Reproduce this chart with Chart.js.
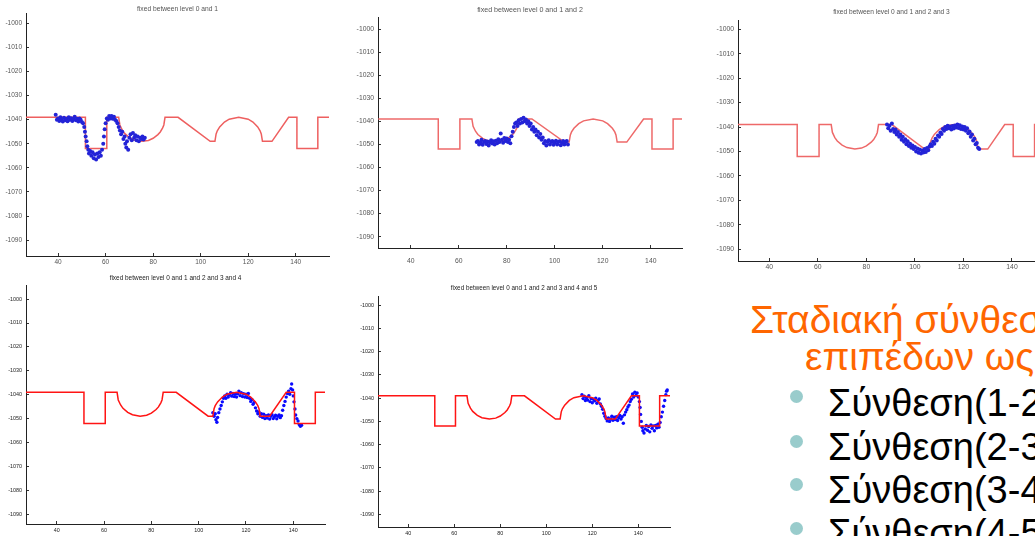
<!DOCTYPE html>
<html>
<head>
<meta charset="utf-8">
<script src="https://cdn.jsdelivr.net/npm/chart.js@4.4.1/dist/chart.umd.min.js"></script>
<style>
  html, body { margin: 0; padding: 0; background: #fff; }
  body { width: 1035px; height: 536px; overflow: hidden; position: relative; font-family: "Liberation Sans", Arial, sans-serif; }
  canvas { position: absolute; }
  .head { position: absolute; color: #ff6600; font-size: 39px; line-height: 39px; white-space: nowrap; }
  .item { position: absolute; color: #000; font-size: 38px; line-height: 38px; white-space: nowrap; }
  .dot { position: absolute; width: 13px; height: 13px; border-radius: 50%; background: #99cccc; }
</style>
</head>
<body>

<div class="head" style="left:750px; top:300px;">Σταδιακή σύνθεση</div>
<div class="head" style="left:805px; top:337px;">επιπέδων ως</div>
<div class="dot" style="left:790px; top:390px;"></div>
<div class="item" style="left:828px; top:384px;">Σύνθεση(1-2)</div>
<div class="dot" style="left:790px; top:435px;"></div>
<div class="item" style="left:828px; top:428px;">Σύνθεση(2-3)</div>
<div class="dot" style="left:790px; top:478px;"></div>
<div class="item" style="left:828px; top:471px;">Σύνθεση(3-4)</div>
<div class="dot" style="left:790px; top:522px;"></div>
<div class="item" style="left:828px; top:514px;">Σύνθεση(4-5)</div>

<script>
// tick labels
const xTicks = [40, 60, 80, 100, 120, 140];
const yTicks = [-1000, -1010, -1020, -1030, -1040, -1050, -1060, -1070, -1080, -1090];

// reference profile (red)
const refX = [26.5, 51.5, 51.5, 60.5, 60.5, 65.5, 66, 67, 68, 70, 72, 75.25, 78, 80, 82, 83, 84, 84.5, 85, 90.5,
  104, 106, 106.5, 107, 108, 110, 112, 116, 120, 122, 124, 125, 125.5, 126, 130, 137, 140.5, 140.5, 149.3, 149.3, 154];
const refY = [-1039, -1039, -1052, -1052, -1039, -1039, -1042.2, -1044.3, -1045.7, -1047.4, -1048.4, -1049, -1048.6,
  -1047.7, -1046.2, -1045.1, -1043.4, -1042.2, -1039, -1039, -1049, -1049, -1045.9, -1044.6, -1043, -1041, -1039.8,
  -1039, -1039.8, -1041, -1043, -1044.6, -1045.9, -1049, -1049, -1039, -1039, -1052, -1052, -1039, -1039];

// measured points (blue), one pair of arrays per level
const lvl1X = [39, 39.5, 40, 40.5, 41, 41.5, 42, 42.5, 43, 43.5, 44, 44.5, 45, 45.5, 46, 46.5, 47, 47.5, 48, 48.5, 49, 49.5,
  50, 50.5, 51, 51.3, 51.6, 52, 52.3, 52.7, 53, 53.5, 54, 54.5, 55, 55.5, 56, 56.5, 57, 57.5, 58, 58.5, 59, 59.3, 59.6, 60,
  60.5, 61, 61.5, 62, 62.5, 63, 63.5, 64, 64.5, 65, 65.5, 66, 66.5, 67, 67.5, 68, 68.3, 68.7, 69, 69.5, 70, 70.5, 71, 71.5,
  72, 72.5, 73, 73.5, 74, 74.5, 75, 75.5, 76, 76.5];
const lvl1Y = [-1038, -1040, -1039.5, -1040.5, -1039, -1040, -1040.8, -1039.2, -1040.2, -1039.6, -1040.6, -1039, -1040,
  -1039.4, -1040.5, -1039.8, -1038.8, -1040.2, -1039.6, -1040.8, -1039.5, -1040, -1041, -1041.5, -1043, -1045, -1047,
  -1049, -1051, -1052.5, -1054, -1053, -1055, -1053.5, -1056, -1054.5, -1056.5, -1054, -1055.5, -1053.5, -1055, -1052.5,
  -1050, -1047, -1044, -1041.5, -1039.5, -1040, -1038.5, -1039.5, -1038.5, -1039.6, -1038.8, -1040, -1040.5, -1041.5,
  -1043, -1044.5, -1046, -1045, -1048, -1047, -1050, -1051.5, -1049, -1052.5, -1047.5, -1046, -1048.5, -1045.5, -1047.5,
  -1046.5, -1048.5, -1047, -1049, -1047.5, -1048, -1047, -1048.2, -1047.5];

const lvl2X = [67.5, 68, 68.5, 69, 69.5, 70, 70.5, 71, 71.5, 72, 72.5, 73, 73.5, 74, 74.5, 75, 75.5, 76, 76.5, 77, 77.5, 78,
  78.5, 79, 79.5, 80, 80.5, 81, 81.5, 82, 82.5, 83, 83.5, 84, 84.5, 85, 85.5, 86, 86.5, 87, 87.5, 88, 88.5, 89, 89.5, 90,
  90.5, 91, 91.5, 92, 92.5, 93, 93.5, 94, 94.5, 95, 95.5, 96, 96.5, 97, 97.5, 98, 98.5, 99, 99.5, 100, 100.5, 101, 101.5,
  102, 102.5, 103, 103.5, 104, 104.5, 105, 105.5];
const lvl2Y = [-1049, -1048.5, -1050, -1049.2, -1048, -1050.2, -1049, -1048.5, -1049.8, -1048.8, -1050.5, -1049.3, -1048.2,
  -1049.6, -1048.6, -1050, -1048.4, -1049.5, -1047.8, -1049, -1045.3, -1048, -1049.3, -1047.2, -1048.5, -1047.5, -1049,
  -1048, -1049.5, -1046.5, -1044.5, -1042.5, -1041, -1040.5, -1042, -1039.5, -1041, -1039, -1040.5, -1038.5, -1040,
  -1039.2, -1041, -1040, -1042, -1041, -1043.5, -1042.5, -1044.5, -1043.5, -1046, -1044.5, -1047, -1045.5, -1048, -1047,
  -1049.5, -1048.5, -1050.5, -1049, -1048.2, -1050, -1049, -1048.5, -1050.2, -1049.2, -1048.4, -1050, -1049, -1048.6,
  -1050.4, -1049.4, -1048.5, -1050, -1049, -1048.5, -1050];

const lvl3X = [88.5, 89, 89.5, 90, 90.5, 91, 91.5, 92, 92.5, 93, 93.5, 94, 94.5, 95, 95.5, 96, 96.5, 97, 97.5, 98, 98.5, 99,
  99.5, 100, 100.5, 101, 101.5, 102, 102.5, 103, 103.5, 104, 104.5, 105, 105.5, 106, 106.5, 107, 107.5, 108, 108.5, 109,
  109.5, 110, 110.5, 111, 111.5, 112, 112.5, 113, 113.5, 114, 114.5, 115, 115.5, 116, 116.5, 117, 117.5, 118, 118.5, 119,
  119.5, 120, 120.5, 121, 121.5, 122, 122.5, 123, 123.5, 124, 124.5, 125, 125.5, 126, 126.5];
const lvl3Y = [-1039, -1040.5, -1039.5, -1041.5, -1038.5, -1040.8, -1042, -1041, -1043, -1042, -1044, -1043, -1045.2, -1044,
  -1046, -1045, -1047, -1045.8, -1047.8, -1046.8, -1048.5, -1047.5, -1049, -1048.2, -1050, -1048.8, -1050.5, -1049.2,
  -1050.8, -1049.6, -1050.4, -1049, -1050.2, -1048.6, -1049.5, -1048, -1047, -1047.8, -1046, -1046.8, -1044.8, -1045.5,
  -1043.5, -1044, -1042.2, -1042.8, -1040.8, -1041.5, -1040, -1040.8, -1039.5, -1040.5, -1039.8, -1041, -1039.6, -1040.6,
  -1039.4, -1040.2, -1039, -1040.4, -1039.3, -1040.8, -1039.8, -1041, -1040, -1041.5, -1040.5, -1042.5, -1041.8, -1044,
  -1043, -1045.5, -1044.8, -1047, -1046.5, -1048.5, -1049];

const lvl4X = [106, 106.5, 107, 107.3, 107.7, 108, 108.5, 109, 109.5, 110, 110.5, 111, 111.5, 112, 112.5, 113, 113.5, 114,
  114.5, 115, 115.5, 116, 116.5, 117, 117.5, 118, 118.5, 119, 119.5, 120, 120.5, 121, 121.5, 122, 122.5, 123, 123.5, 124,
  124.5, 125, 125.5, 126, 126.5, 127, 127.5, 128, 128.5, 129, 129.5, 130, 130.5, 131, 131.5, 132, 132.5, 133, 133.5, 134,
  134.5, 135, 135.5, 136, 136.5, 137, 137.5, 138, 138.5, 139, 139.3, 139.7, 140, 140.3, 140.7, 141, 141.5, 142, 142.5,
  143, 143.5];
const lvl4Y = [-1047.5, -1049, -1048, -1050.5, -1051.5, -1049.5, -1047.5, -1046, -1044.5, -1043, -1041.5, -1040.5, -1041.5,
  -1039.8, -1041, -1040, -1039.2, -1040.6, -1039.5, -1040.8, -1039.8, -1041, -1039.6, -1038.5, -1040.4, -1039.2, -1040.8,
  -1039.6, -1041, -1039.8, -1041.2, -1039.5, -1041.5, -1042.8, -1042, -1044, -1043.2, -1045.5, -1046.8, -1048, -1047.2,
  -1049, -1048, -1049.5, -1048.2, -1050, -1048.8, -1049.8, -1048.5, -1050.2, -1049, -1048.4, -1050, -1049.2, -1048.6,
  -1050.1, -1049, -1048.5, -1049.6, -1048.8, -1046.5, -1044.5, -1042.8, -1041, -1039.5, -1038.5, -1039.8, -1037.5,
  -1035.5, -1038, -1040.5, -1043, -1046, -1048.5, -1050, -1051, -1052.5, -1053.2, -1052.8];

const lvl5X = [115.5, 116, 116.5, 117, 117.5, 118, 118.5, 119, 119.5, 120, 120.5, 121, 121.5, 122, 122.5, 123, 123.5, 124,
  124.5, 125, 125.5, 126, 126.5, 127, 127.5, 128, 128.5, 129, 129.5, 130, 130.5, 131, 131.5, 132, 132.5, 133, 133.5, 134,
  134.5, 135, 135.5, 136, 136.5, 137, 137.5, 138, 138.5, 139, 139.5, 140, 140.5, 140.8, 141, 141.3, 141.7, 142, 142.5,
  143, 143.5, 144, 144.5, 145, 145.5, 146, 146.5, 147, 147.5, 148, 148.5, 149, 149.5, 150, 150.5, 151, 151.5, 152, 152.3,
  152.6];
const lvl5Y = [-1038.5, -1040.2, -1039.2, -1041, -1039.8, -1040.8, -1039, -1041.5, -1040.2, -1042, -1040.5, -1041.2, -1040,
  -1042.2, -1041, -1040.4, -1042.5, -1043.5, -1044.8, -1046.5, -1047.8, -1048.8, -1049.8, -1048.5, -1050, -1049, -1047.8,
  -1049.5, -1048.2, -1049.2, -1048, -1049.6, -1048.4, -1047.5, -1049, -1048, -1050.8, -1047.2, -1046, -1045, -1043.8,
  -1043, -1041.5, -1040.5, -1038.2, -1039.5, -1037.5, -1038.8, -1037.8, -1039.5, -1041.5, -1044, -1047, -1050, -1052.5,
  -1054, -1055, -1053.2, -1051.8, -1053.8, -1052.2, -1054.5, -1051.5, -1053, -1052, -1054, -1051.8, -1052.8, -1051.2,
  -1052.5, -1050.5, -1048, -1046, -1043.5, -1041, -1038.5, -1037, -1036.5];

const titles = [
  'fixed between level 0 and 1',
  'fixed between level 0 and 1 and 2',
  'fixed between level 0 and 1 and 2 and 3',
  'fixed between level 0 and 1 and 2 and 3 and 4',
  'fixed between level 0 and 1 and 2 and 3 and 4 and 5'
];

// placement of each figure on the slide
const figs = [
  { xs: lvl1X, ys: lvl1Y, left: 0, top: 0, box: [26, 13, 329, 256], titleY: 9, xr: [26.5, 154], yr: [-1096.6, -995.7],
    gap: 6, fs: 6.5, tfs: 6.7, txt: '#555', red: 'rgb(238,95,95)', blue: 'rgb(35,35,215)', pr: 2, redTop: false },
  { xs: lvl2X, ys: lvl2Y, left: 345, top: 0, box: [378, 17, 682, 248], titleY: 10, xr: [26.4, 153], yr: [-1094.9, -994.8],
    gap: 13, fs: 6.8, tfs: 7.1, txt: '#555', red: 'rgb(238,105,105)', blue: 'rgb(35,35,215)', pr: 2, redTop: false },
  { xs: lvl3X, ys: lvl3Y, left: 690, top: 0, box: [738, 20, 1045, 261], titleY: 12, xr: [27.1, 153.6], yr: [-1094.8, -996.2],
    gap: 6, fs: 6.8, tfs: 6.6, txt: '#555', red: 'rgb(238,105,105)', blue: 'rgb(35,35,215)', pr: 2, redTop: false },
  { xs: lvl4X, ys: lvl4Y, left: 0, top: 270, box: [26, 285, 325, 524], titleY: 278, xr: [27, 153.4], yr: [-1094.1, -994.1],
    gap: 6, fs: 5.4, tfs: 6.45, txt: '#222', red: 'rgb(255,20,20)', blue: 'rgb(10,10,255)', pr: 1.7, redTop: true },
  { xs: lvl5X, ys: lvl5Y, left: 345, top: 270, box: [378, 296, 670, 527], titleY: 288, xr: [26.8, 153.8], yr: [-1095.4, -996.1],
    gap: 6, fs: 5.4, tfs: 6.3, txt: '#222', red: 'rgb(255,20,20)', blue: 'rgb(10,10,255)', pr: 1.7, redTop: true }
];

const FONT = '"Liberation Sans", Arial, sans-serif';

figs.forEach((f, k) => {
  const [bl, bt, br, bb] = f.box;
  const W = bl - f.left;
  const H = 16;
  const padR = 6;
  const c = document.createElement('canvas');
  c.width = br - f.left + padR;
  c.height = bb + H - f.top;
  c.style.left = f.left + 'px';
  c.style.top = f.top + 'px';
  document.body.appendChild(c);

  const lh = 7;
  new Chart(c, {
    type: 'scatter',
    data: {
      datasets: [
        {
          data: f.xs.map((x, i) => ({ x: x, y: f.ys[i] })),
          backgroundColor: f.blue,
          borderWidth: 0,
          pointRadius: f.pr,
          order: f.redTop ? 1 : 0
        },
        {
          data: refX.map((x, i) => ({ x: x, y: refY[i] })),
          showLine: true,
          borderColor: f.red,
          borderWidth: 1.5,
          pointRadius: 0,
          tension: 0,
          order: f.redTop ? 0 : 1
        }
      ]
    },
    options: {
      responsive: false,
      animation: false,
      events: [],
      layout: { padding: { left: 0, right: padR, top: 0, bottom: 0 } },
      plugins: {
        legend: { display: false },
        tooltip: { enabled: false },
        title: {
          display: true,
          text: titles[k],
          fullSize: false,
          color: f.txt,
          font: { family: FONT, size: f.tfs, weight: 'normal', lineHeight: lh + 'px' },
          padding: { top: f.titleY - f.top - lh / 2, bottom: bt - f.titleY - lh / 2 }
        }
      },
      scales: {
        x: {
          type: 'linear',
          min: f.xr[0],
          max: f.xr[1],
          afterBuildTicks: s => { s.ticks = xTicks.map(v => ({ value: v })); },
          afterFit: s => { s.height = H; },
          grid: { drawOnChartArea: false, drawTicks: true, tickLength: -3, color: '#333' },
          border: { display: true, color: '#222', width: 1 },
          ticks: { padding: f.gap + 3 - f.fs * 0.55, color: f.txt, font: { family: FONT, size: f.fs },
            maxRotation: 0, autoSkip: false, callback: v => String(v) }
        },
        y: {
          type: 'linear',
          min: f.yr[0],
          max: f.yr[1],
          afterBuildTicks: s => { s.ticks = yTicks.map(v => ({ value: v })); },
          afterFit: s => { s.width = W; },
          grid: { drawOnChartArea: false, drawTicks: true, tickLength: -3, color: '#333' },
          border: { display: true, color: '#222', width: 1 },
          ticks: { padding: 7, color: f.txt, font: { family: FONT, size: f.fs }, autoSkip: false, callback: v => String(v) }
        }
      }
    }
  });
});
</script>
</body>
</html>
